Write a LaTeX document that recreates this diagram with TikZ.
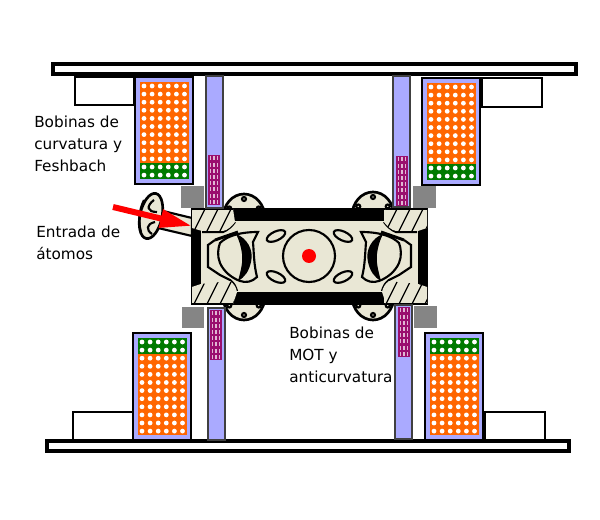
\documentclass[tikz,border=0pt]{standalone}
\usepackage{fontspec}
\setmainfont{DejaVu Sans}
\usetikzlibrary{arrows.meta}
\definecolor{coilorange}{HTML}{FF6600}
\definecolor{coilgreen}{HTML}{007A00}
\definecolor{coilblue}{HTML}{AAAAFF}
\definecolor{coilpurple}{HTML}{9A0F6E}
\definecolor{chamberbeige}{HTML}{E9E7D5}
\tikzset{
  bar/.style={draw=black,line width=3pt,fill=white},
  whitebox/.style={draw=black,line width=1.5pt,fill=white},
  coilframe/.style={draw=black,line width=2.2pt,fill=coilblue},
  column/.style={draw=black!75,line width=1.2pt,fill=coilblue},
  graybox/.style={fill=black!48},
  inkline/.style={draw=black,line width=1.6pt},
  solidblack/.style={fill=black},
  label/.style={anchor=north west,inner sep=0pt,align=left,font=\fontsize{11.45}{16.5}\selectfont}
}
% one coil: frame corner, then top of orange and top of green
\newcommand{\coilblock}[4]{
  \draw[coilframe] (#1,#2) rectangle ++(58,107);
  \fill[coilorange] (#1+5,#3) rectangle ++(49,81);
  \fill[coilgreen] (#1+5,#4) rectangle ++(49,16);
  \foreach \row in {0,...,11}
    \foreach \col in {0,...,5}
      \fill[white] (#1+9+\col*8.1,#2+9+\row*8.1) circle (2.4);
}
% vertical winding with its small grid
\newcommand{\purpleblock}[2]{
  \fill[coilpurple] (#1,#2) rectangle ++(12,50);
  \foreach \row in {0,...,7}
    \foreach \col in {0,1,2}
      \fill[white!70!coilpurple] (#1+1.6+\col*3.6,#2+1.5+\row*6.2) rectangle ++(1.6,4);
}
% left half of the chamber inside, mirrored for the right half
\newcommand{\chamberhalf}{
  \draw[inkline] (202,232) -- (223,232) .. controls (228,230) and (232,226) .. (235,222);
  \draw[inkline] (215,240) -- (208,245) -- (208,267) -- (220,275) -- (230,280) .. controls (234,283) and (236,287) .. (237,291);
  \draw[inkline] (220,243) .. controls (227,236) and (240,232) .. (258,232) -- (253,242) .. controls (254,255) and (254,265) .. (257,277)
    .. controls (252,282) and (246,283) .. (240,281) .. controls (232,278) and (224,272) .. (220,263) .. controls (217,256) and (218,248) .. (220,243) -- cycle;
  \fill[black] (236,234) .. controls (247,238) and (254,250) .. (251,262) .. controls (249,271) and (245,277) .. (238,281)
    .. controls (241,270) and (243,262) .. (242,254) .. controls (241,246) and (239,240) .. (236,234) -- cycle;
  \draw[inkline,line width=2.2pt] (215,240) -- (238,232);
  \draw[inkline,rotate around={-25:(276,236)}] (276,236) ellipse (10 and 4.5);
  \draw[inkline,rotate around={25:(276,277)}] (276,277) ellipse (10 and 4.5);
}
% round flange with its bolt notches
\newcommand{\flange}[2]{
  \draw[inkline,line width=2pt,fill=chamberbeige] (#1,#2) ellipse (21 and 24);
  \foreach \ang in {30,90,150,210,270,330}
    \draw[inkline] (#1,#2) ++(\ang:17 and 19) circle (2);
}
% hatched corner of the chamber, outline given as argument
\newcommand{\hatchcorner}[3]{
  \fill[chamberbeige] #3;
  \begin{scope}
    \clip #3;
    \foreach \hx in {0,13,...,78}
      \draw[black,line width=1pt] (#1+\hx,#2) -- ++(-12,24);
  \end{scope}
}
\begin{document}
\begin{tikzpicture}[x=0.75pt,y=0.75pt,yscale=-1,xscale=1]
  \useasboundingbox (0,0) rectangle (600,520);
  \draw[bar] (53,64) rectangle (576,74);
  \draw[bar] (47,441) rectangle (569,451);
  % boxes next to the coils
  \draw[whitebox] (75,77) rectangle (134,105);
  \draw[whitebox] (482,78) rectangle (542,107);
  \draw[whitebox] (73,412) rectangle (133,440);
  \draw[whitebox] (485,412) rectangle (545,440);
  \coilblock{135}{77}{82}{163}
  \coilblock{422}{78}{83}{164}
  \coilblock{133}{333}{354}{338}
  \coilblock{425}{333}{354}{338}
  % atom inlet
  \draw[inkline,fill=chamberbeige] (163,211) -- (192,218) -- (192,236) -- (158,228) -- cycle;
  \draw[inkline,line width=2pt,fill=chamberbeige,rotate around={12:(151,216)}] (151,216) ellipse (11 and 23);
  \draw[inkline] (154,200) .. controls (146,206) and (147,212) .. (157,212);
  \draw[inkline] (152,234) .. controls (146,230) and (146,224) .. (155,222);
  \draw[inkline] (144,200) .. controls (139,210) and (138,222) .. (141,232);
  % flanges behind the chamber
  \flange{244}{218}
  \flange{373}{216}
  \flange{244}{296}
  \flange{373}{296}
  % chamber
  \draw[black,line width=1pt,fill=chamberbeige] (192,209) rectangle (427,304);
  \fill[solidblack] (233,209) rectangle (384,221);
  \fill[solidblack] (233,292) rectangle (384,304);
  \fill[solidblack] (192,228) rectangle (201,287);
  \fill[solidblack] (418,228) rectangle (427,287);
  \chamberhalf
  \begin{scope}[shift={(619,0)},xscale=-1]
    \chamberhalf
  \end{scope}
  % hatched corners
  \hatchcorner{192}{209}{(192,209) -- (233,209) -- (235,222) .. controls (232,226) and (228,230) .. (223,231) -- (202,231) -- (192,228) -- cycle}
  \hatchcorner{384}{209}{(427,209) -- (386,209) -- (384,222) .. controls (387,226) and (391,230) .. (396,231) -- (418,231) -- (427,228) -- cycle}
  \hatchcorner{192}{282}{(192,304) -- (233,304) -- (237,292) .. controls (236,287) and (234,284) .. (230,281) -- (201,284) -- (192,287) -- cycle}
  \hatchcorner{384}{282}{(427,304) -- (386,304) -- (382,292) .. controls (383,287) and (385,284) .. (389,281) -- (418,284) -- (427,287) -- cycle}
  \draw[inkline] (192,209) -- (233,209);
  \draw[inkline] (386,209) -- (427,209);
  \draw[inkline] (192,304) -- (233,304);
  \draw[inkline] (386,304) -- (427,304);
  \draw[line width=1.6pt] (309,256) circle (26);
  \fill[red] (309,256) circle (7);
  % vertical columns
  \draw[column] (206,76) rectangle (223,208);
  \draw[column] (393,76) rectangle (410,207);
  \draw[column] (208,308) rectangle (225,440);
  \draw[column] (395,305) rectangle (412,439);
  \purpleblock{208}{155}
  \purpleblock{396}{156}
  \purpleblock{210}{310}
  \purpleblock{398}{307}
  \fill[graybox] (181,186) rectangle (204,208);
  \fill[graybox] (413,186) rectangle (436,208);
  \fill[graybox] (182,307) rectangle (204,328);
  \fill[graybox] (414,306) rectangle (437,328);
  % arrow
  \coordinate (beamstart) at (113,207);
  \coordinate (beamend) at (192,226);
  \draw[red,line width=4.5pt,-{Triangle[length=24pt,width=13pt]}] (beamstart) -- (beamend);
  % labels
  \node[label] (labelcurv) at (34,115.5) {Bobinas de\\curvatura y\\Feshbach};
  \node[label] (labelatoms) at (36,225.5) {Entrada de\\átomos};
  \node[label] (labelmot) at (289,326.5) {Bobinas de\\MOT y\\anticurvatura};
\end{tikzpicture}
\end{document}
